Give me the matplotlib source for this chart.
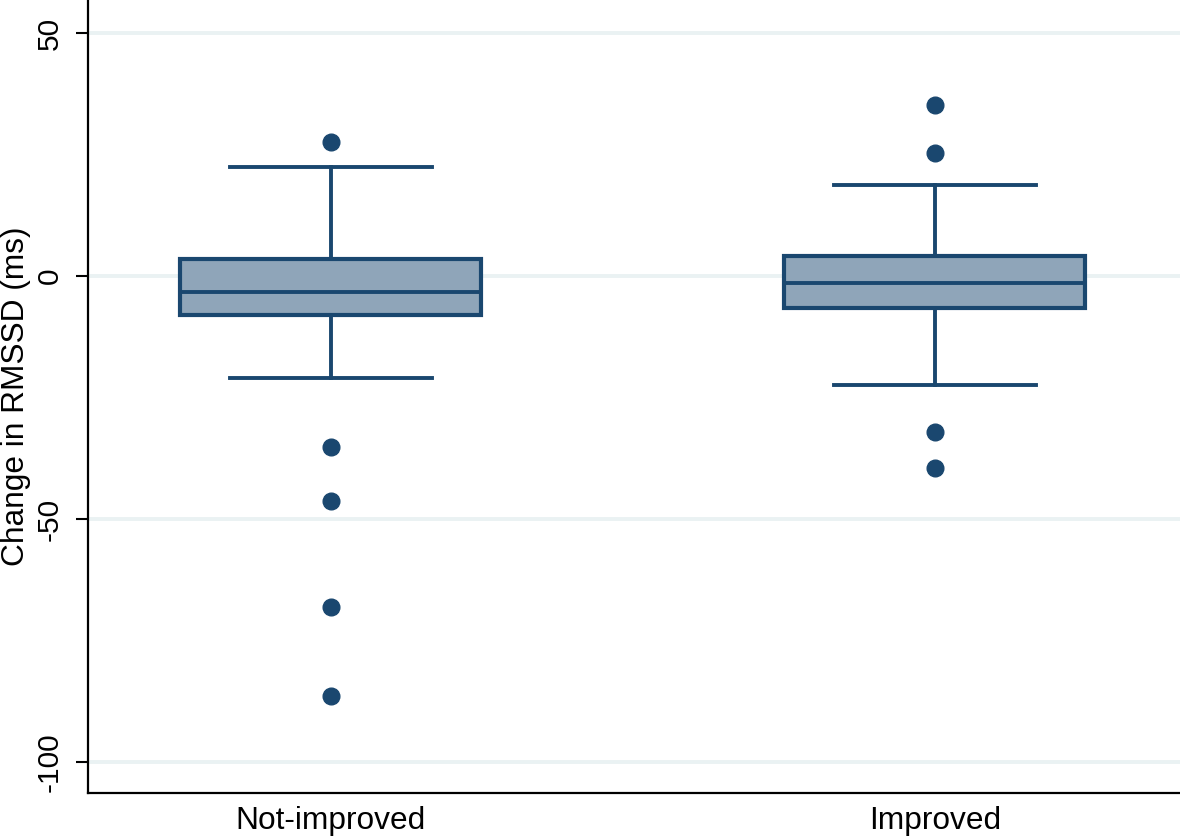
import matplotlib
matplotlib.use("Agg")
import matplotlib.pyplot as plt

plt.rcParams['font.family'] = ['Liberation Sans', 'DejaVu Sans']

categories = ["Not-improved", "Improved"]
q1 = [-8.0, -6.6]
median = [-3.2, -1.4]
q3 = [3.5, 4.1]
whisker_low = [-21.0, -22.4]
whisker_high = [22.4, 18.7]
outliers = [[27.5, -35.2, -46.3, -68.1, -86.4],
            [35.2, 25.4, -32.1, -39.5]]
yticks = [-100, -50, 0, 50]

navy = "#1a476f"
fill = "#8fa5b9"

fig = plt.figure(figsize=(11.8, 8.36), dpi=100)
ax = fig.add_axes([88/1180, 43/836, 1092/1180, 793/836])

stats = []
for i, c in enumerate(categories):
    stats.append(dict(label=c, q1=q1[i], med=median[i], q3=q3[i],
                      whislo=whisker_low[i], whishi=whisker_high[i],
                      fliers=outliers[i]))

ax.bxp(stats, positions=[0, 1], widths=0.498, patch_artist=True,
       capwidths=0.334, zorder=3,
       boxprops=dict(facecolor=fill, edgecolor=navy, linewidth=3.0),
       medianprops=dict(color=navy, linewidth=2.8),
       whiskerprops=dict(color=navy, linewidth=2.8),
       capprops=dict(color=navy, linewidth=2.8),
       flierprops=dict(marker='o', markerfacecolor=navy, markeredgecolor=navy,
                       markersize=12, linestyle='none'))

ax.set_xlim(-0.402, 1.406)
ax.set_ylim(-106.4, 56.8)
ax.set_yticks(yticks)
ax.set_yticklabels([str(t) for t in yticks], rotation=90, va='center', fontsize=21.5)
ax.tick_params(axis='y', length=8.5, width=1.5, pad=9, colors='black')
ax.tick_params(axis='x', length=0, pad=9, labelsize=22.8)
ax.set_xticks([0, 1])
ax.set_xticklabels(categories)

ax.yaxis.grid(True, color="#eaf2f3", linewidth=2.8, zorder=0)
ax.set_axisbelow(True)

for s in ['top', 'right']:
    ax.spines[s].set_visible(False)
for s in ['left', 'bottom']:
    ax.spines[s].set_linewidth(1.6)
    ax.spines[s].set_color('black')

ax.set_ylabel("Change in RMSSD (ms)", fontsize=22.8)
ax.yaxis.set_label_coords(-0.052, 0.5)

fig.savefig("out.png", dpi=100)
